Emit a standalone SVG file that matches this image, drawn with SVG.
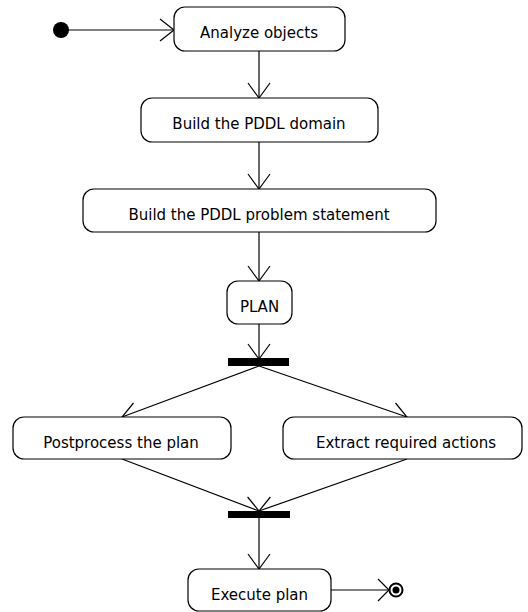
<svg xmlns="http://www.w3.org/2000/svg" width="528" height="612" viewBox="0 0 528 612">
  <style>
    .act rect { fill: #ffffff; stroke: #000000; stroke-width: 1.2; }
    .act text { font-family: "DejaVu Sans", sans-serif; font-size: 15px; fill: #000000; text-anchor: middle; }
    .edge { fill: none; stroke: #000000; stroke-width: 1.2; }
    .head { fill: none; stroke: #000000; stroke-width: 1.2; }
    .bar { fill: #000000; }
  </style>
  <rect width="528" height="612" fill="#ffffff"/>

  <!-- connectors -->
  <g id="connectors">
    <line class="edge" x1="61" y1="30" x2="174" y2="30"/>
    <polyline class="head" points="160,19 174,30 160,41"/>

    <line class="edge" x1="259" y1="51" x2="259" y2="98"/>
    <polyline class="head" points="248,83 259,98 270,83"/>

    <line class="edge" x1="259" y1="142" x2="259" y2="189"/>
    <polyline class="head" points="248,174 259,189 270,174"/>

    <line class="edge" x1="259" y1="232" x2="259" y2="281"/>
    <polyline class="head" points="248,266 259,281 270,266"/>

    <line class="edge" x1="259" y1="324" x2="259" y2="359"/>
    <polyline class="head" points="248,344 259,359 270,344"/>

    <line class="edge" x1="259" y1="366" x2="122" y2="417"/>
    <polyline class="head" points="133.5,403 122,417 139.7,420"/>
    <line class="edge" x1="259" y1="366" x2="407" y2="417"/>
    <polyline class="head" points="395.5,403 407,417 389.3,420"/>

    <line class="edge" x1="122" y1="459" x2="259" y2="511"/>
    <polyline class="head" points="241.2,513.9 259,511 247.6,497"/>
    <line class="edge" x1="407" y1="459" x2="259" y2="511"/>
    <polyline class="head" points="276.8,513.9 259,511 270.4,497"/>

    <line class="edge" x1="259" y1="518" x2="259" y2="569"/>
    <polyline class="head" points="248,554 259,569 270,554"/>

    <line class="edge" x1="331" y1="590" x2="389" y2="590"/>
    <polyline class="head" points="378,579 389,590 378,601"/>
  </g>

  <!-- initial node -->
  <g id="start">
    <circle cx="61" cy="30" r="8" fill="#000000"/>
  </g>

  <g id="analyze" class="act">
    <rect x="174" y="7" width="171" height="44" rx="11"/>
    <text x="259" y="38">Analyze objects</text>
  </g>

  <g id="domain" class="act">
    <rect x="141" y="98" width="237" height="44" rx="11"/>
    <text x="259" y="129">Build the PDDL domain</text>
  </g>

  <g id="problem" class="act">
    <rect x="83" y="189" width="353" height="43" rx="11"/>
    <text x="259" y="220">Build the PDDL problem statement</text>
  </g>

  <g id="plan" class="act">
    <rect x="227" y="281" width="65" height="43" rx="11"/>
    <text x="259.5" y="312">PLAN</text>
  </g>

  <g id="fork">
    <rect class="bar" x="228" y="358" width="61" height="8"/>
  </g>

  <g id="postprocess" class="act">
    <rect x="13" y="417" width="218" height="42" rx="11"/>
    <text x="121" y="448">Postprocess the plan</text>
  </g>

  <g id="extract" class="act">
    <rect x="283" y="417" width="239" height="42" rx="11"/>
    <text x="406" y="448">Extract required actions</text>
  </g>

  <g id="join">
    <rect class="bar" x="228" y="511" width="62" height="7"/>
  </g>

  <g id="execute" class="act">
    <rect x="188" y="569" width="143" height="42" rx="11"/>
    <text x="259.5" y="600">Execute plan</text>
  </g>

  <!-- final node -->
  <g id="end">
    <circle cx="396" cy="590" r="6.5" fill="#ffffff" stroke="#000000" stroke-width="2"/>
    <circle cx="396" cy="590" r="3.5" fill="#000000"/>
  </g>
</svg>
